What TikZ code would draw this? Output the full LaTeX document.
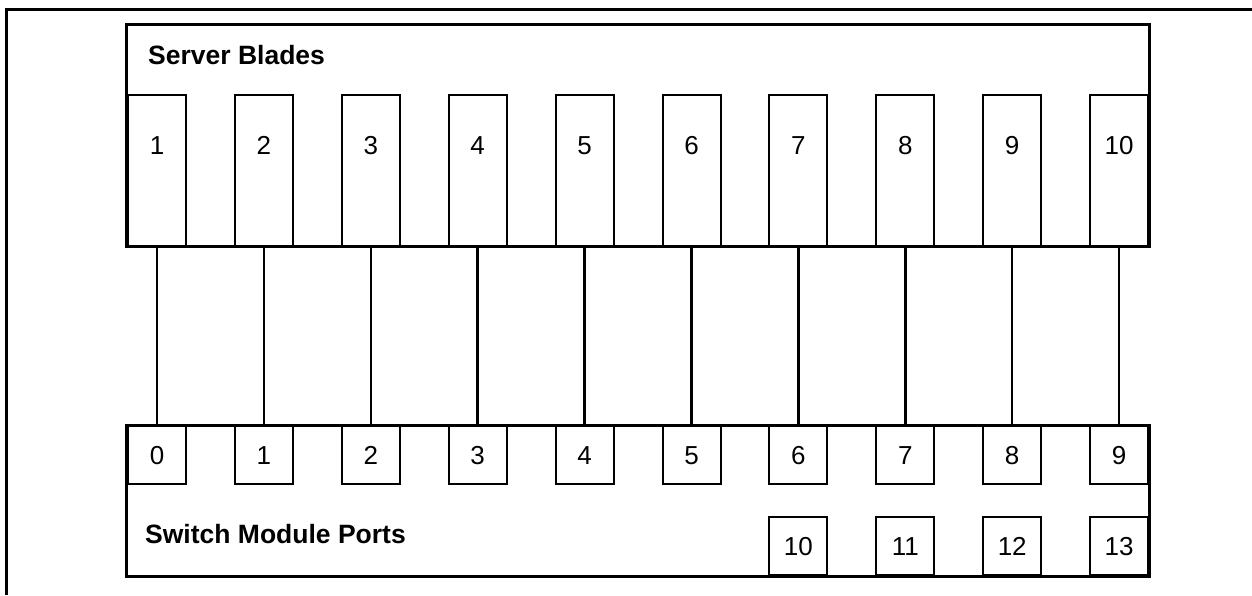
\documentclass[tikz,border=0pt]{standalone}
\usepackage{fontspec}
\setmainfont{Liberation Sans}

\tikzstyle{every node}=[inner sep=0pt, font={\fontsize{26}{30}\selectfont}]
\tikzstyle{chassis}=[draw=black, line width=3pt]
\tikzstyle{blade}=[draw=black, line width=2pt, minimum width=58pt, minimum height=151pt, anchor=south west]
\tikzstyle{number}=[text height=18.6pt, text depth=0pt]
\tikzstyle{port}=[number, draw=black, line width=2pt, minimum width=58pt, minimum height=58pt]
\tikzstyle{title}=[anchor=base west, font={\bfseries\fontsize{26.5}{30}\selectfont}]
\tikzstyle{link}=[line width=2.5pt]

\begin{document}
\begin{tikzpicture}[x=1pt, y=1pt]
    \useasboundingbox (0,0) rectangle (1252,595);
    \draw [chassis] (6.5,0) -- (6.5,585) -- (1252,585);

    % server blades
    \draw [chassis] (126,348) rectangle (1149,570);
    \node [title] (blades) at (148,530) {Server Blades};
    \foreach \i [evaluate=\i as \x using {127+(\i-1)*106.9}] in {1,...,10} {
        \node [blade] (b\i) at (\x,348) {};
        \node [number] (n\i) at ([yshift=-51pt]b\i.north) {\i};
    }

    % switch module
    \draw [chassis] (126,19) rectangle (1149,170);
    \node [title] (ports) at (145,52) {Switch Module Ports};
    \foreach \i [evaluate=\i as \x using {127+(\i-1)*106.9}] in {1,...,10} {
        \pgfmathtruncatemacro\j{\i-1}
        \node [port, anchor=north west] (p\j) at (\x,170) {\j};
        \draw [link] (b\i.south) -- (p\j.north);
    }
    \foreach \i/\j in {7/10,8/11,9/12,10/13} {
        \node [port, anchor=south west] (p\j) at ({127+(\i-1)*106.9},19) {\j};
    }
\end{tikzpicture}
\end{document}
